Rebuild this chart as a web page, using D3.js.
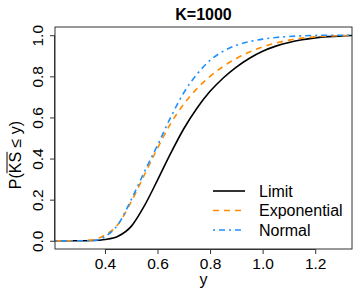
<!DOCTYPE html>
<html><head><meta charset="utf-8">
<script src="https://cdn.jsdelivr.net/npm/d3@7"></script>
<style>body{margin:0;background:#fff}svg{display:block}text{font-family:"Liberation Sans",Arial,Helvetica,sans-serif}</style>
</head><body>
<svg id="c" width="360" height="294"></svg>
<script>
const xs = [0.21,0.30,0.35,0.40,0.45,0.50,0.55,0.60,0.65,0.70,0.75,0.80,0.85,0.90,0.95,1.00,1.05,1.10,1.15,1.20,1.25,1.30,1.34];
const limitVals = [0,0,0.001,0.006,0.022,0.07,0.17,0.295,0.425,0.545,0.645,0.727,0.792,0.845,0.888,0.922,0.947,0.965,0.978,0.987,0.993,0.997,0.999];
const expVals = [0,0,0.004,0.028,0.08,0.19,0.32,0.45,0.57,0.665,0.74,0.80,0.848,0.887,0.918,0.943,0.962,0.976,0.986,0.992,0.996,0.998,0.999];
const normVals = [0,0,0,0.02,0.08,0.2,0.335,0.465,0.60,0.72,0.81,0.878,0.922,0.951,0.969,0.981,0.989,0.994,0.997,0.999,1.0,1.0,1.0];
const xTicks = [0.4,0.6,0.8,1.0,1.2];
const yTicks = [0.0,0.2,0.4,0.6,0.8,1.0];
const seriesNames = ["Limit","Exponential","Normal"];
const title = "K=1000";

const svg = d3.select("#c");
const L=55,R=352,T=27,B=249;
const x = d3.scaleLinear().domain([0.21,1.34]).range([L,R]);
const y = d3.scaleLinear().domain([-0.04,1.04]).range([B,T]);
const styles = [
  {color:"#000000", dash:null},
  {color:"#FF8C00", dash:"6,5"},
  {color:"#1E90FF", dash:"2,4,6,4"}
];
const data = [limitVals, expVals, normVals];
const line = d3.line().x(d=>x(d[0])).y(d=>y(d[1])).curve(d3.curveMonotoneX);
svg.append("clipPath").attr("id","cp").append("rect").attr("x",L).attr("y",T).attr("width",R-L).attr("height",B-T);
data.forEach((vals,i)=>{
  svg.append("path").datum(xs.map((v,j)=>[v,vals[j]]))
    .attr("d",line).attr("fill","none").attr("stroke",styles[i].color)
    .attr("stroke-width",1.6).attr("stroke-dasharray",styles[i].dash).attr("clip-path","url(#cp)");
});
svg.append("rect").attr("x",L).attr("y",T).attr("width",R-L).attr("height",B-T)
  .attr("fill","none").attr("stroke","#333").attr("stroke-width",1);
// x axis
const xa = svg.append("g").attr("transform",`translate(0,${B})`)
  .call(d3.axisBottom(x).tickValues(xTicks).tickFormat(d3.format(".1f")).tickSize(5).tickPadding(4));
xa.select(".domain").attr("d",`M${x(0.4)},0.5H${x(1.2)}`).attr("stroke","#333");
xa.selectAll(".tick line").attr("stroke","#333");
xa.selectAll("text").attr("font-size","15.5px").attr("fill","#000").attr("font-family","Liberation Sans, Arial, sans-serif");
// y axis
const ya = svg.append("g").attr("transform",`translate(${L},0)`)
  .call(d3.axisLeft(y).tickValues(yTicks).tickFormat(d3.format(".1f")).tickSize(5));
ya.select(".domain").attr("d",`M-0.5,${y(0)}V${y(1)}`).attr("stroke","#333");
ya.selectAll(".tick line").attr("stroke","#333");
ya.selectAll("text").attr("font-size","15.5px").attr("fill","#000").attr("font-family","Liberation Sans, Arial, sans-serif")
  .attr("x",null).attr("dy",null).attr("text-anchor","middle")
  .attr("transform","translate(-11.7,0) rotate(-90)");
// title
svg.append("text").attr("x",(L+R)/2).attr("y",20).attr("text-anchor","middle")
  .attr("font-size","16px").attr("font-weight","bold").text(title);
// x label
svg.append("text").attr("x",(L+R)/2).attr("y",285).attr("text-anchor","middle").attr("font-size","16px").text("y");
// y label with overline
const yg = svg.append("g").attr("transform","translate(20.5,155) rotate(-90)");
const yl = yg.append("text").attr("text-anchor","middle").attr("font-size","16px").text("P(KS \u2264 y)");
const n = yl.node();
const s0 = n.getStartPositionOfChar(2).x, e1 = n.getEndPositionOfChar(3).x;
yg.append("line").attr("x1",s0).attr("x2",e1).attr("y1",-13.5).attr("y2",-13.5).attr("stroke","#000").attr("stroke-width",1);
// legend
const lg = svg.append("g");
seriesNames.forEach((nm,i)=>{
  const yy = 191 + i*19.5;
  lg.append("line").attr("x1",213).attr("x2",245).attr("y1",yy).attr("y2",yy)
    .attr("stroke",styles[i].color).attr("stroke-width",1.6).attr("stroke-dasharray",styles[i].dash);
  lg.append("text").attr("x",259).attr("y",yy+5.7).attr("font-size","16px").text(nm);
});
</script>
</body></html>
